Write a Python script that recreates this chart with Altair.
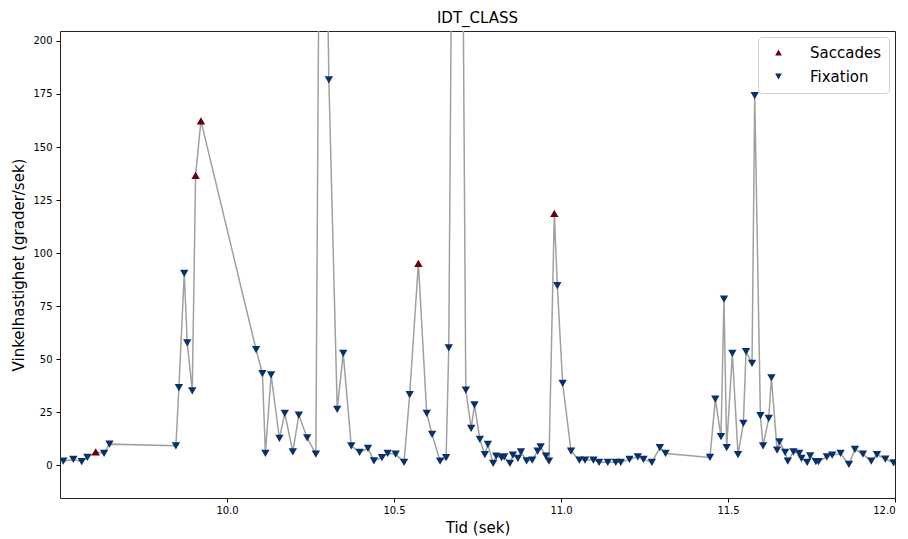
import altair as alt
import pandas as pd

# Time (s), angular velocity (deg/s) and class of each sample
tid = [
    9.510, 9.540, 9.565, 9.582, 9.607, 9.632, 9.648,
    9.847, 9.856, 9.872, 9.881, 9.896, 9.906, 9.922,
    10.087, 10.106, 10.115, 10.132, 10.157, 10.173, 10.197, 10.215, 10.240, 10.266,
    10.283, 10.305, 10.330, 10.348, 10.372, 10.397, 10.422, 10.440, 10.464, 10.481,
    10.505, 10.530, 10.547, 10.573, 10.598, 10.614, 10.638, 10.656, 10.664, 10.690,
    10.715, 10.731, 10.741, 10.757, 10.772, 10.781, 10.797, 10.806, 10.822, 10.830,
    10.847, 10.856, 10.871, 10.880, 10.897, 10.914, 10.930, 10.939, 10.955, 10.964,
    10.980, 10.989, 11.005, 11.030, 11.055, 11.072, 11.097, 11.114, 11.140, 11.164,
    11.179, 11.205, 11.230, 11.247, 11.272, 11.296, 11.313,
    11.446, 11.462, 11.479, 11.488, 11.496, 11.513, 11.530, 11.546, 11.554, 11.572,
    11.580, 11.597, 11.605, 11.622, 11.630, 11.647, 11.654, 11.671, 11.679, 11.696,
    11.713, 11.720, 11.737, 11.746, 11.763, 11.771, 11.796, 11.812, 11.837, 11.862,
    11.880, 11.904, 11.929, 11.946, 11.971, 11.996,
]
hastighet = [
    1.9, 2.7, 1.6, 3.6, 6.3, 5.5, 9.9,
    9.1, 36.5, 90.4, 57.7, 35.0, 136.6, 162.3,
    54.5, 43.2, 5.5, 42.5, 12.6, 24.4, 6.3, 23.6, 12.9, 5.2,
    430.0, 181.6, 26.3, 52.7, 9.1, 6.0, 7.9, 2.0, 3.5, 5.5,
    5.2, 1.3, 33.3, 95.1, 24.4, 14.5, 1.9, 3.5, 55.3, 620.0,
    35.4, 17.3, 28.4, 12.1, 5.0, 9.8, 0.8, 4.2, 3.5, 3.9,
    0.8, 4.7, 3.2, 6.3, 2.0, 2.4, 6.6, 8.6, 4.2, 1.9,
    118.7, 84.6, 38.5, 6.6, 2.4, 2.4, 2.4, 1.3, 1.3, 1.3,
    1.3, 2.7, 3.9, 2.7, 1.3, 8.2, 5.5,
    3.6, 31.1, 13.4, 78.3, 8.3, 52.7, 5.0, 19.7, 53.5, 48.0,
    174.2, 23.3, 9.1, 22.0, 41.2, 7.1, 11.0, 6.0, 1.9, 6.3,
    5.5, 3.2, 1.3, 4.4, 1.6, 1.6, 3.9, 4.7, 5.5, 0.3,
    7.4, 5.2, 1.9, 5.0, 2.8, 1.1,
]
klass_kod = (
    "FFFFSFF" "FFFFFSS" "FFFFFFFFFF" "SFFFFFFFFF" "FFFSFFFFFS" "FFFFFFFFFF"
    "FFFFFFFFFF" "SFFFFFFFFF" "FFFFFFF" "FFFFFFFFFF" "FFFFFFFFFF" "FFFFFFFFFF"
    "FFFFFF"
)
klass_namn = {"S": "Saccades", "F": "Fixation"}
klasser = ["Saccades", "Fixation"]
farger = ["#67000d", "#08306b"]
former = ["triangle-up", "triangle-down"]

df = pd.DataFrame({
    "i": list(range(len(tid))),
    "t": tid,
    "v": hastighet,
    "klass": [klass_namn[c] for c in klass_kod],
})

FONT = "DejaVu Sans"

x_enc = alt.X(
    "t:Q",
    scale=alt.Scale(domain=[9.5, 12.0], nice=False, zero=False),
    axis=alt.Axis(
        values=[10.0, 10.5, 11.0, 11.5, 12.0], format=".1f", title="Tid (sek)",
        grid=False, domain=False, tickColor="#000", tickSize=4, labelPadding=3,
        labelFontSize=10, labelColor="#000", labelFont=FONT,
        titleFontSize=15, titleFontWeight="normal", titleFont=FONT,
        titleColor="#000", titlePadding=5,
    ),
)
y_enc = alt.Y(
    "v:Q",
    scale=alt.Scale(domain=[-15.5, 204.7], nice=False, zero=False),
    axis=alt.Axis(
        values=[0, 25, 50, 75, 100, 125, 150, 175, 200], title="Vinkelhastighet (grader/sek)",
        grid=False, domain=False, tickColor="#000", tickSize=4, labelPadding=4,
        labelFontSize=10, labelColor="#000", labelFont=FONT,
        titleFontSize=15, titleFontWeight="normal", titleFont=FONT,
        titleColor="#000", titlePadding=6,
    ),
)

base = alt.Chart(df)

line = base.mark_line(color="#a0a0a0", strokeWidth=1.5, clip=True).encode(
    x=x_enc, y=y_enc, order="i:Q"
)

legend = alt.Legend(
    title=None, orient="top-right", offset=6, padding=8,
    strokeColor="#d0d0d0", fillColor="#ffffff", cornerRadius=4,
    labelFontSize=15, labelFont=FONT, labelColor="#000",
    symbolSize=45, symbolOffset=5, labelOffset=24, rowPadding=8,
)

points = base.mark_point(filled=True, opacity=1, size=70, clip=True).encode(
    x=x_enc,
    y=y_enc,
    color=alt.Color("klass:N", scale=alt.Scale(domain=klasser, range=farger), legend=legend),
    shape=alt.Shape("klass:N", scale=alt.Scale(domain=klasser, range=former), legend=legend),
)

chart = (
    alt.layer(line, points)
    .properties(
        width=835,
        height=467,
        autosize="none",
        padding={"left": 60, "top": 31, "right": 13, "bottom": 41},
        title=alt.TitleParams(
            "IDT_CLASS", fontSize=15, fontWeight="normal", font=FONT,
            color="#000", offset=5, anchor="middle",
        ),
    )
    .configure_view(stroke="#222", strokeWidth=1)
)

chart.save("out.html", embed_options={"renderer": "svg", "actions": False})
